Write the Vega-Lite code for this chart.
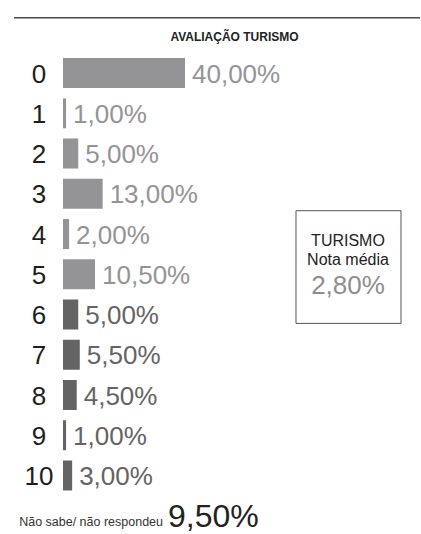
{
  "$schema": "https://vega.github.io/schema/vega-lite/v6.json",
  "width": 407,
  "height": 486,
  "autosize": {"type": "none"},
  "padding": {"left": 14, "top": 48, "right": 0, "bottom": 0},
  "background": "white",
  "config": {
    "view": {"stroke": null},
    "axis": {"disable": true},
    "font": "Liberation Sans",
    "locale": {"number": {"decimal": ",", "thousands": ".", "grouping": [3], "currency": ["R$", ""]}}
  },
  "datasets": {
    "notas": [
      {"nota": 0, "pct": 0.40, "grupo": "0 a 5"},
      {"nota": 1, "pct": 0.01, "grupo": "0 a 5"},
      {"nota": 2, "pct": 0.05, "grupo": "0 a 5"},
      {"nota": 3, "pct": 0.13, "grupo": "0 a 5"},
      {"nota": 4, "pct": 0.02, "grupo": "0 a 5"},
      {"nota": 5, "pct": 0.105, "grupo": "0 a 5"},
      {"nota": 6, "pct": 0.05, "grupo": "6 a 10"},
      {"nota": 7, "pct": 0.055, "grupo": "6 a 10"},
      {"nota": 8, "pct": 0.045, "grupo": "6 a 10"},
      {"nota": 9, "pct": 0.01, "grupo": "6 a 10"},
      {"nota": 10, "pct": 0.03, "grupo": "6 a 10"}
    ],
    "resumo": [
      {"cabecalho": "AVALIAÇÃO TURISMO", "titulo": "TURISMO", "subtitulo": "Nota média", "media": 0.028, "ns_rotulo": "Não sabe/ não respondeu", "ns": 0.095}
    ]
  },
  "layer": [
    {
      "data": {"name": "notas"},
      "mark": {"type": "bar", "size": 30},
      "encoding": {
        "x": {"field": "pct", "type": "quantitative", "scale": {"domain": [-0.16066, 1.17377], "nice": false, "zero": false}},
        "x2": {"datum": 0},
        "y": {"field": "nota", "type": "quantitative", "scale": {"domain": [-0.5, 11.33], "reverse": true, "nice": false, "zero": false}},
        "color": {"field": "grupo", "type": "nominal", "scale": {"domain": ["0 a 5", "6 a 10"], "range": ["#949497", "#646464"]}, "legend": null}
      }
    },
    {
      "data": {"name": "notas"},
      "mark": {"type": "text", "align": "left", "baseline": "alphabetic", "dx": 7, "dy": 9.5, "fontSize": 26},
      "encoding": {
        "x": {"field": "pct", "type": "quantitative"},
        "y": {"field": "nota", "type": "quantitative"},
        "text": {"field": "pct", "type": "quantitative", "format": ".2%"},
        "color": {"field": "grupo", "type": "nominal", "legend": null}
      }
    },
    {
      "data": {"name": "notas"},
      "mark": {"type": "text", "align": "center", "baseline": "alphabetic", "dy": 9.5, "fontSize": 26, "color": "#1e1e1e"},
      "encoding": {
        "x": {"datum": -0.0787},
        "y": {"field": "nota", "type": "quantitative"},
        "text": {"field": "nota", "type": "nominal"}
      }
    },
    {
      "data": {"name": "resumo"},
      "mark": {"type": "rule", "color": "#4a4a4a", "strokeWidth": 1.5},
      "encoding": {
        "x": {"datum": -0.16066},
        "x2": {"datum": 1.1705},
        "y": {"datum": -1.375}
      }
    },
    {
      "data": {"name": "resumo"},
      "mark": {"type": "text", "align": "center", "baseline": "alphabetic", "fontSize": 12, "fontWeight": "bold", "color": "#222222"},
      "encoding": {
        "x": {"datum": 0.5623},
        "y": {"datum": -0.791},
        "text": {"field": "cabecalho", "type": "nominal"}
      }
    },
    {
      "data": {"name": "resumo"},
      "mark": {"type": "rect", "fill": "white", "stroke": "#555555", "strokeWidth": 1},
      "encoding": {
        "x": {"datum": 0.7639},
        "x2": {"datum": 1.1082},
        "y": {"datum": 3.42},
        "y2": {"datum": 6.22}
      }
    },
    {
      "data": {"name": "resumo"},
      "mark": {"type": "text", "align": "center", "baseline": "alphabetic", "fontSize": 16, "color": "#222222"},
      "encoding": {
        "x": {"datum": 0.9344},
        "y": {"datum": 4.297},
        "text": {"field": "titulo", "type": "nominal"}
      }
    },
    {
      "data": {"name": "resumo"},
      "mark": {"type": "text", "align": "center", "baseline": "alphabetic", "fontSize": 16, "color": "#222222"},
      "encoding": {
        "x": {"datum": 0.9344},
        "y": {"datum": 4.78},
        "text": {"field": "subtitulo", "type": "nominal"}
      }
    },
    {
      "data": {"name": "resumo"},
      "mark": {"type": "text", "align": "center", "baseline": "alphabetic", "fontSize": 26, "color": "#8e8e8e"},
      "encoding": {
        "x": {"datum": 0.9344},
        "y": {"datum": 5.5},
        "text": {"field": "media", "type": "quantitative", "format": ".2%"}
      }
    },
    {
      "data": {"name": "resumo"},
      "mark": {"type": "text", "align": "right", "baseline": "alphabetic", "fontSize": 12.5, "color": "#333333"},
      "encoding": {
        "x": {"datum": 0.328},
        "y": {"datum": 11.26},
        "text": {"field": "ns_rotulo", "type": "nominal"}
      }
    },
    {
      "data": {"name": "resumo"},
      "mark": {"type": "text", "align": "left", "baseline": "alphabetic", "fontSize": 32, "color": "#222222"},
      "encoding": {
        "x": {"datum": 0.3443},
        "y": {"datum": 11.29},
        "text": {"field": "ns", "type": "quantitative", "format": ".2%"}
      }
    }
  ]
}
